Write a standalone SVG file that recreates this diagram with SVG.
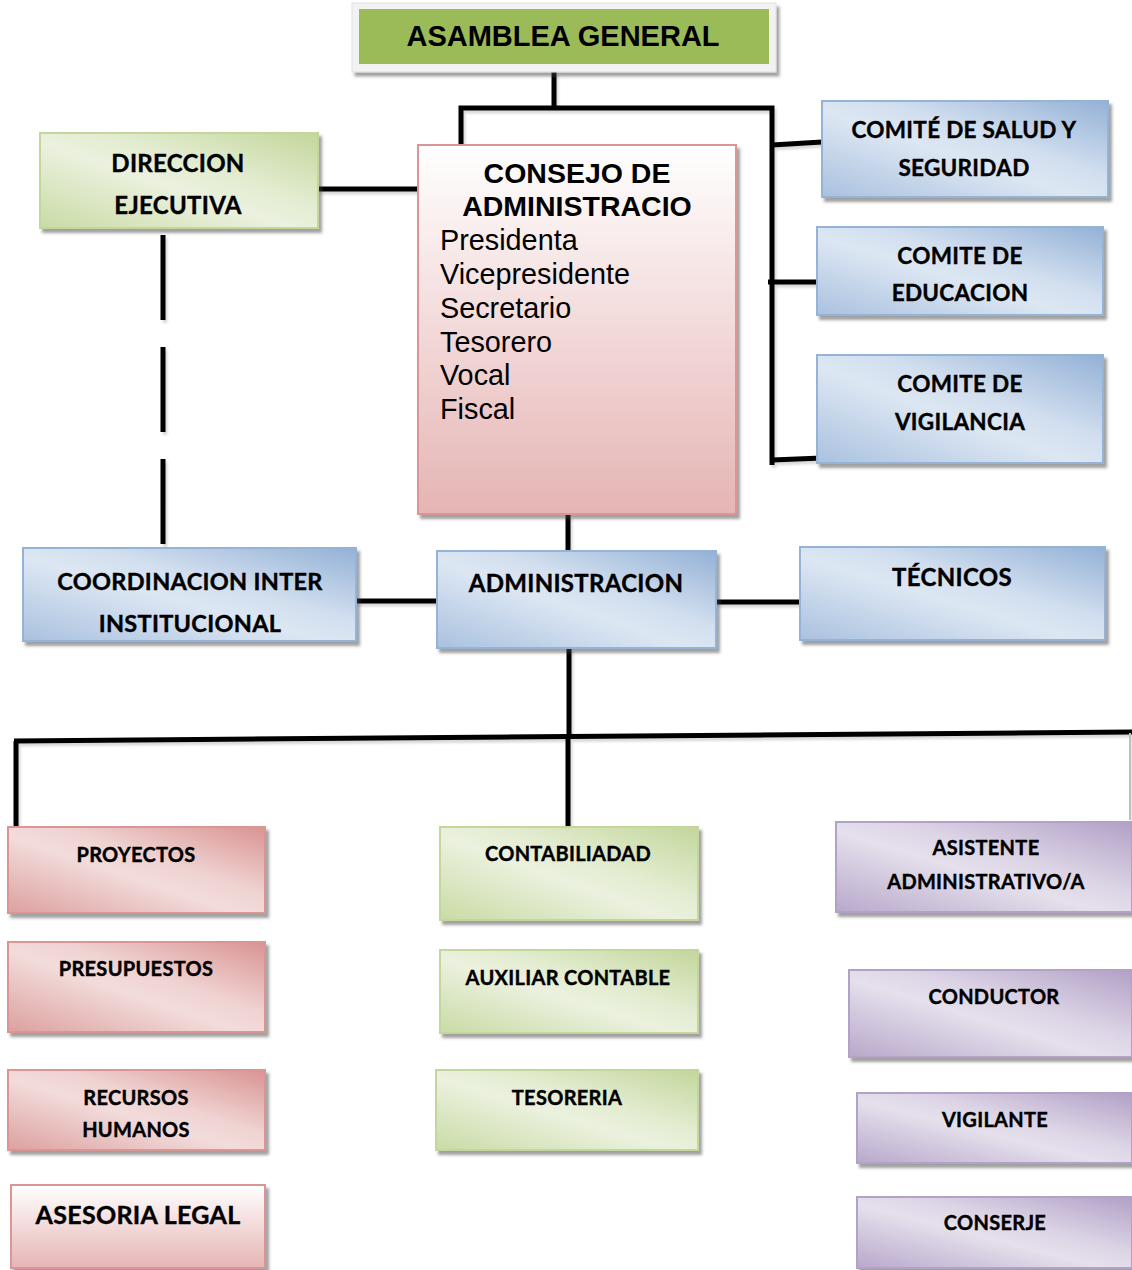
<svg xmlns="http://www.w3.org/2000/svg" width="1132" height="1270" viewBox="0 0 1132 1270">
<defs>
<filter id="sh" x="-10%" y="-10%" width="130%" height="140%">
<feDropShadow dx="3" dy="4" stdDeviation="1.5" flood-color="#404040" flood-opacity="0.5"/>
</filter>
<filter id="lsh" x="-10%" y="-10%" width="130%" height="130%">
<feDropShadow dx="2" dy="3" stdDeviation="1" flood-color="#000" flood-opacity="0.15"/>
</filter>
<linearGradient id="gBlue" x1="0" y1="1" x2="1" y2="0">
<stop offset="0" stop-color="#a9c1df"/>
<stop offset="0.45" stop-color="#dde7f3"/>
<stop offset="0.6" stop-color="#d2dfef"/>
<stop offset="1" stop-color="#93b1d6"/>
</linearGradient>
<linearGradient id="gPink" x1="0" y1="1" x2="1" y2="0">
<stop offset="0" stop-color="#dca09f"/>
<stop offset="0.45" stop-color="#f2dcdb"/>
<stop offset="0.6" stop-color="#efd3d2"/>
<stop offset="1" stop-color="#d99391"/>
</linearGradient>
<linearGradient id="gGreen" x1="0" y1="1" x2="1" y2="0">
<stop offset="0" stop-color="#c9dba5"/>
<stop offset="0.45" stop-color="#ebf1de"/>
<stop offset="0.6" stop-color="#e4edd2"/>
<stop offset="1" stop-color="#c3d69b"/>
</linearGradient>
<linearGradient id="gPurple" x1="0" y1="1" x2="1" y2="0">
<stop offset="0" stop-color="#b8a8cb"/>
<stop offset="0.45" stop-color="#e5e0ec"/>
<stop offset="0.6" stop-color="#ddd5e6"/>
<stop offset="1" stop-color="#b1a0c6"/>
</linearGradient>
<linearGradient id="gRose" x1="0" y1="0" x2="0" y2="1">
<stop offset="0" stop-color="#ffffff"/>
<stop offset="1" stop-color="#e6b4b4"/>
</linearGradient>
<style>
.box{filter:url(#sh);stroke-width:2}
.blue{fill:url(#gBlue);stroke:#95b3d7}
.pink{fill:url(#gPink);stroke:#d99694}
.green{fill:url(#gGreen);stroke:#c3d69b}
.purple{fill:url(#gPurple);stroke:#b3a2c7}
.rose{fill:url(#gRose);stroke:#d99694}
.t{font-family:Lato,"Open Sans","Liberation Sans",sans-serif;font-weight:bold;fill:#000;stroke:#000;stroke-width:0.4;letter-spacing:0.3px;text-anchor:middle}
.a{font-family:"Liberation Sans",Arial,sans-serif;fill:#000}
.ab{font-family:"Liberation Sans",Arial,sans-serif;font-weight:bold;fill:#000;text-anchor:middle}
.c{fill:none;stroke:#000;stroke-width:5}
</style>
</defs>

<g id="connectors" filter="url(#lsh)">
<path class="c" d="M554 72 V108"/>
<path class="c" d="M461 146 V108 H772 V465"/>
<path class="c" d="M772 145 L822 142"/>
<path class="c" d="M768 282 H817"/>
<path class="c" d="M772 460 L822 458"/>
<path class="c" d="M318 189 H418"/>
<path class="c" d="M163 235 V550" stroke-dasharray="85 27"/>
<path class="c" d="M568 515 V551"/>
<path class="c" d="M356 601 H437"/>
<path class="c" d="M716 602 H800"/>
<path class="c" d="M569 648 V738"/>
<path class="c" d="M14 741 L1132 732" stroke-width="6"/>
<path class="c" d="M16 741 V828" stroke-width="4"/>
<path class="c" d="M568 738 V827" stroke-width="4"/>
<path d="M1130 733 V820" stroke="#bfbfbf" stroke-width="2" fill="none"/>
</g>

<g id="asamblea">
<rect x="352" y="3" width="424" height="69" fill="#f2f2f2" stroke="#e0e0e0" filter="url(#sh)"/>
<rect x="359" y="9" width="410" height="55" fill="#9bbb59"/>
<text class="ab" x="563" y="46" font-size="29">ASAMBLEA GENERAL</text>
</g>

<g id="direccion">
<rect class="box green" x="40" y="133" width="278" height="95"/>
<text class="t" x="178" y="172" font-size="24">DIRECCION</text>
<text class="t" x="178" y="214" font-size="24">EJECUTIVA</text>
</g>

<g id="consejo">
<rect class="box rose" x="418" y="145" width="318" height="369"/>
<text class="ab" x="577" y="183" font-size="28.5">CONSEJO DE</text>
<text class="ab" x="577" y="216" font-size="28.5">ADMINISTRACIO</text>
<text class="a" x="440" y="250" font-size="28.8">Presidenta</text>
<text class="a" x="440" y="284" font-size="28.8">Vicepresidente</text>
<text class="a" x="440" y="318" font-size="28.8">Secretario</text>
<text class="a" x="440" y="352" font-size="28.8">Tesorero</text>
<text class="a" x="440" y="385" font-size="28.8">Vocal</text>
<text class="a" x="440" y="419" font-size="28.8">Fiscal</text>
</g>

<g id="comite-salud">
<rect class="box blue" x="822" y="101" width="286" height="96"/>
<text class="t" x="964" y="138" font-size="22.5">COMITÉ DE SALUD Y</text>
<text class="t" x="964" y="176" font-size="22.5">SEGURIDAD</text>
</g>

<g id="comite-educacion">
<rect class="box blue" x="817" y="227" width="286" height="88"/>
<text class="t" x="960" y="264" font-size="22.5">COMITE DE</text>
<text class="t" x="960" y="301" font-size="22.5">EDUCACION</text>
</g>

<g id="comite-vigilancia">
<rect class="box blue" x="817" y="355" width="286" height="108"/>
<text class="t" x="960" y="392" font-size="22.5">COMITE DE</text>
<text class="t" x="960" y="430" font-size="22.5">VIGILANCIA</text>
</g>

<g id="coordinacion">
<rect class="box blue" x="23" y="548" width="333" height="93"/>
<text class="t" x="190" y="590" font-size="23.5">COORDINACION INTER</text>
<text class="t" x="190" y="632" font-size="23.5">INSTITUCIONAL</text>
</g>

<g id="administracion">
<rect class="box blue" x="437" y="551" width="279" height="97"/>
<text class="t" x="576" y="592" font-size="24">ADMINISTRACION</text>
</g>

<g id="tecnicos">
<rect class="box blue" x="800" y="547" width="305" height="93"/>
<text class="t" x="952" y="586" font-size="24">TÉCNICOS</text>
</g>

<g id="proyectos">
<rect class="box pink" x="8" y="827" width="257" height="86"/>
<text class="t" x="136" y="862" font-size="20">PROYECTOS</text>
</g>

<g id="presupuestos">
<rect class="box pink" x="8" y="942" width="257" height="90"/>
<text class="t" x="136" y="976" font-size="20">PRESUPUESTOS</text>
</g>

<g id="recursos-humanos">
<rect class="box pink" x="8" y="1070" width="257" height="80"/>
<text class="t" x="136" y="1105" font-size="20">RECURSOS</text>
<text class="t" x="136" y="1137" font-size="20">HUMANOS</text>
</g>

<g id="asesoria-legal">
<rect class="box rose" x="11" y="1185" width="254" height="83"/>
<text class="t" x="138" y="1224" font-size="25">ASESORIA LEGAL</text>
</g>

<g id="contabilidad">
<rect class="box green" x="440" y="827" width="258" height="93"/>
<text class="t" x="568" y="861" font-size="20">CONTABILIADAD</text>
</g>

<g id="auxiliar-contable">
<rect class="box green" x="440" y="950" width="258" height="83"/>
<text class="t" x="568" y="985" font-size="20">AUXILIAR CONTABLE</text>
</g>

<g id="tesoreria">
<rect class="box green" x="436" y="1070" width="262" height="80"/>
<text class="t" x="567" y="1105" font-size="20">TESORERIA</text>
</g>

<g id="asistente">
<rect class="box purple" x="836" y="822" width="296" height="90"/>
<text class="t" x="986" y="855" font-size="20">ASISTENTE</text>
<text class="t" x="986" y="889" font-size="20">ADMINISTRATIVO/A</text>
</g>

<g id="conductor">
<rect class="box purple" x="849" y="970" width="283" height="87"/>
<text class="t" x="994" y="1004" font-size="20">CONDUCTOR</text>
</g>

<g id="vigilante">
<rect class="box purple" x="857" y="1093" width="275" height="70"/>
<text class="t" x="995" y="1127" font-size="20">VIGILANTE</text>
</g>

<g id="conserje">
<rect class="box purple" x="857" y="1197" width="275" height="71"/>
<text class="t" x="995" y="1230" font-size="20">CONSERJE</text>
</g>
</svg>
